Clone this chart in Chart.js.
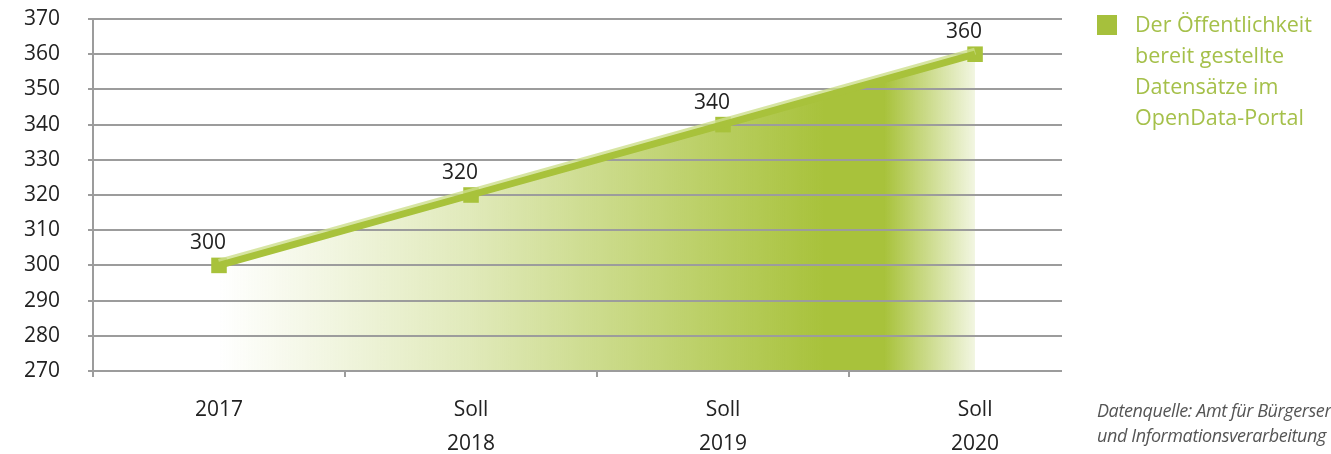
<!DOCTYPE html>
<html>
<head>
<meta charset="utf-8">
<script src="https://cdn.jsdelivr.net/npm/chart.js@4.4.1/dist/chart.umd.min.js"></script>
<style>
  html, body { margin: 0; padding: 0; background: #fff; overflow: hidden; }
  #wrap { position: relative; width: 1331px; height: 454px; }
  #legend { position: absolute; left: 1097px; top: 8px; font-family: "Open Sans", sans-serif; font-size: 21.5px; line-height: 31px; color: #a5c04a; }
  #legend .box { position: absolute; left: 0; top: 7px; width: 20px; height: 20px; background: #a6c03c; }
  #legend .txt { margin-left: 38px; white-space: nowrap; }
  #source { position: absolute; left: 1097px; top: 398px; font-family: "Open Sans", sans-serif; font-style: italic; font-size: 18px; line-height: 25px; color: #555; white-space: nowrap; letter-spacing: -0.4px; }
</style>
</head>
<body>
<div id="wrap">
  <canvas id="line-chart" width="1331" height="454"></canvas>
  <div id="legend"><div class="box"></div><div class="txt">Der Öffentlichkeit<br>bereit gestellte<br>Datensätze im<br>OpenData-Portal</div></div>
  <div id="source">Datenquelle: Amt für Bürgerservice<br>und Informationsverarbeitung</div>
</div>
<script>
var categories = [["2017"], ["Soll", "2018"], ["Soll", "2019"], ["Soll", "2020"]];
var datasaetze = [300, 320, 340, 360];
var yTicks = [270, 280, 290, 300, 310, 320, 330, 340, 350, 360, 370];

var green = "#a8c23b";
var gridGrey = "#9c9c9c";

var points = datasaetze.map(function(v, i) { return {x: i, y: v}; });

// value labels above the markers
var valueLabels = {
    id: "valueLabels",
    afterDatasetsDraw: function(chart) {
        var ctx = chart.ctx;
        var meta = chart.getDatasetMeta(2);
        ctx.save();
        ctx.font = "21px 'Open Sans', sans-serif";
        ctx.fillStyle = "#222";
        ctx.textAlign = "center";
        ctx.textBaseline = "middle";
        meta.data.forEach(function(pt, i) {
            ctx.fillText(String(datasaetze[i]), pt.x - 11, pt.y - 22);
        });
        ctx.restore();
    }
};

// light halo just above the line
var lineHalo = {
    id: "lineHalo",
    beforeDatasetDraw: function(chart, args) {
        if (args.index !== 1) return;
        chart.ctx.save();
        chart.ctx.shadowColor = "rgba(205,222,140,0.8)";
        chart.ctx.shadowOffsetY = -3;
        chart.ctx.shadowBlur = 0;
    },
    afterDatasetDraw: function(chart, args) {
        if (args.index !== 1) return;
        chart.ctx.restore();
    }
};

function fillGradient(context) {
    var chart = context.chart;
    if (!chart.chartArea) return "rgba(168,194,59,0.5)";
    var xs = chart.scales.x;
    var x0 = xs.getPixelForValue(0);
    var x1 = xs.getPixelForValue(datasaetze.length - 1);
    var g = chart.ctx.createLinearGradient(x0, 0, x1, 0);
    g.addColorStop(0, "rgba(168,194,59,0)");
    g.addColorStop(0.33, "rgba(168,194,59,0.35)");
    g.addColorStop(0.6, "rgba(168,194,59,0.72)");
    g.addColorStop(0.8, "rgba(168,194,59,1)");
    g.addColorStop(0.88, "rgba(168,194,59,1)");
    g.addColorStop(1, "rgba(168,194,59,0.15)");
    return g;
}

var ctx = document.getElementById("line-chart").getContext("2d");
var lineChart = new Chart(ctx, {
    type: "line",
    data: {
        datasets: [
            {
                data: points,
                fill: "start",
                backgroundColor: fillGradient,
                borderWidth: 0,
                pointRadius: 0
            },
            {
                data: points,
                fill: false,
                borderColor: green,
                borderWidth: 7,
                pointRadius: 0,
                lineTension: 0
            },
            {
                label: "Der Öffentlichkeit bereit gestellte Datensätze im OpenData-Portal",
                data: points,
                fill: false,
                showLine: false,
                pointStyle: "rect",
                pointRadius: 11,
                pointBackgroundColor: green,
                pointBorderWidth: 0
            }
        ]
    },
    options: {
        responsive: false,
        animation: false,
        layout: { padding: { top: 19, right: 269, bottom: 0, left: 0 } },
        plugins: {
            legend: { display: false },
            tooltip: { enabled: false },
            // area goes under the grid lines, as in the original
            filler: { drawTime: "beforeDraw" }
        },
        scales: {
            x: {
                type: "linear",
                min: -0.5,
                max: 3.345,
                afterBuildTicks: function(scale) {
                    var t = [];
                    for (var v = -0.5; v <= 3; v += 0.5) t.push({value: v});
                    scale.ticks = t;
                },
                afterFit: function(scale) {
                    scale.height = 83;
                    scale.paddingTop = 0;
                    scale.paddingBottom = 0;
                },
                grid: {
                    drawOnChartArea: false,
                    drawTicks: true,
                    tickLength: 6,
                    lineWidth: 2,
                    color: function(c) {
                        return (c.tick && Number.isInteger(c.tick.value)) ? "rgba(0,0,0,0)" : gridGrey;
                    }
                },
                border: { display: false },
                ticks: {
                    autoSkip: false,
                    maxRotation: 0,
                    padding: 16,
                    color: "#222",
                    font: { family: "'Open Sans', sans-serif", size: 21, lineHeight: 1.62 },
                    callback: function(v) {
                        return Number.isInteger(v) ? categories[v] : "";
                    }
                }
            },
            y: {
                min: 270,
                max: 370,
                afterBuildTicks: function(scale) {
                    scale.ticks = yTicks.map(function(v) { return {value: v}; });
                },
                afterFit: function(scale) {
                    scale.width = 93;
                    scale.paddingTop = 0;
                    scale.paddingBottom = 0;
                },
                grid: {
                    color: gridGrey,
                    lineWidth: 2,
                    tickLength: 5
                },
                border: { color: gridGrey, width: 2 },
                ticks: {
                    padding: 28,
                    color: "#222",
                    font: { family: "'Open Sans', sans-serif", size: 21 }
                }
            }
        }
    },
    plugins: [valueLabels, lineHalo]
});
</script>
</body>
</html>
